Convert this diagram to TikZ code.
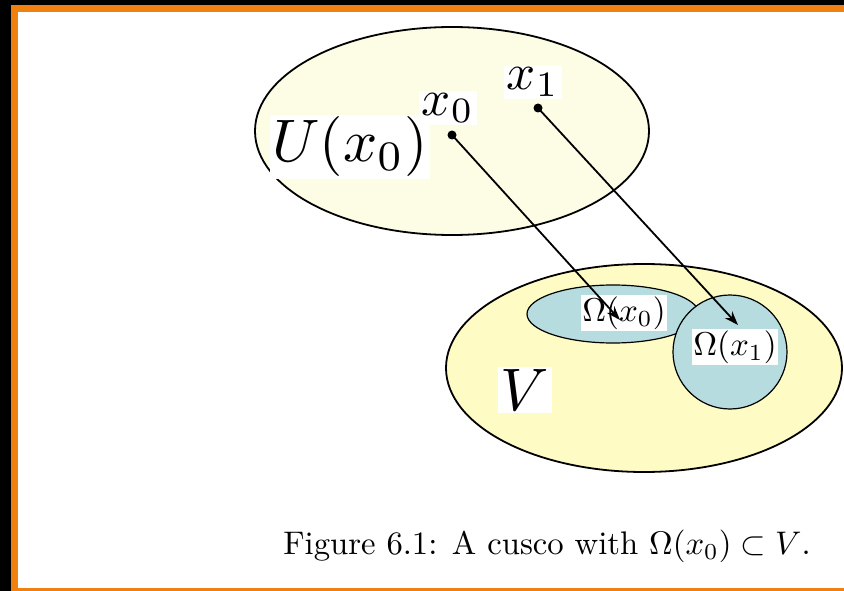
\documentclass[tikz,border=0pt]{standalone}
\usetikzlibrary{arrows.meta}
\definecolor{frameorange}{RGB}{240,128,16}
\definecolor{ucream}{RGB}{253,252,228}
\definecolor{vyellow}{RGB}{255,251,196}
\definecolor{omblue}{RGB}{182,220,224}
\tikzset{
	setline/.style={draw=black, line width=1.8pt},
	biglabel/.style={fill=white, inner sep=0.4pt, scale=6},
	ptlabel/.style={fill=white, inner sep=0.5pt, scale=5.1},
	omlabel/.style={fill=white, inner sep=0.4pt, scale=3.3},
	mapsto/.style={-{Stealth[length=14pt,width=10pt]}, line width=1.8pt},
	ptdot/.style={circle, fill=black, inner sep=0pt, minimum size=9pt}
}
\begin{document}
\begin{tikzpicture}[x=1pt,y=-1pt]
	% frame
	\fill[black] (0,0) rectangle (844,591);
	\fill[frameorange] (11,5) rectangle (844,591);
	\fill[white] (18,12) rectangle (844,588);
	\useasboundingbox (0,0) rectangle (844,591);
	% the sets
	\draw[setline, fill=ucream] (452,131) ellipse [x radius=197, y radius=104];
	\draw[setline, fill=vyellow] (644,368) ellipse [x radius=198, y radius=104];
	\draw[draw=black, line width=1.2pt, fill=omblue] (613,314) ellipse [x radius=86, y radius=29];
	\draw[draw=black, line width=1.2pt, fill=omblue] (730,352) circle [radius=57];
	% labels
	\node[biglabel] (ulab) at (350,147) {$U(x_0)$};
	\node[ptlabel] (xzero) at (448,108) {$x_0$};
	\node[ptlabel] (xone) at (533,82) {$x_1$};
	\node[omlabel] (omzero) at (624,313) {$\Omega(x_0)$};
	\node[omlabel] (omone) at (735,347) {$\Omega(x_1)$};
	\node[biglabel] (vlab) at (525,390) {$V$};
	% points and their images
	\node[ptdot] (p0) at (452,135) {};
	\node[ptdot] (p1) at (538,108) {};
	\coordinate (t0) at (620,320);
	\coordinate (t1) at (738,325);
	\draw[mapsto] (p0.center) -- (t0);
	\draw[mapsto] (p1.center) -- (t1);
	% caption
	\node[scale=3.27] (cap) at (547,546) {Figure 6.1: A cusco with $\Omega(x_0)\subset V$.};
\end{tikzpicture}
\end{document}
